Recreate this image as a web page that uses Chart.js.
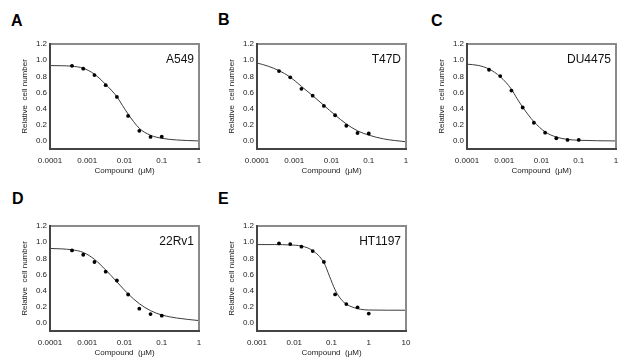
<!DOCTYPE html>
<html>
<head>
<meta charset="utf-8">
<script src="https://cdn.jsdelivr.net/npm/chart.js@4.4.1/dist/chart.umd.min.js"></script>
<style>
  html, body { margin: 0; padding: 0; background: #ffffff; }
  body { width: 623px; height: 362px; position: relative; overflow: hidden; font-family: "Liberation Sans", Arial, sans-serif; }
  .cv { position: absolute; }
  .letter { position: absolute; font-weight: bold; font-size: 16px; line-height: 16px; color: #000; }
</style>
</head>
<body>
<div class="letter" style="left:11px;top:13px;">A</div>
<div class="letter" style="left:218px;top:12px;">B</div>
<div class="letter" style="left:431px;top:13px;">C</div>
<div class="letter" style="left:12px;top:191px;">D</div>
<div class="letter" style="left:218px;top:191px;">E</div>
<canvas id="cA" class="cv" width="205" height="180" style="left:0px;top:0px;width:205px;height:180px;"></canvas>
<canvas id="cB" class="cv" width="205" height="180" style="left:207px;top:0px;width:205px;height:180px;"></canvas>
<canvas id="cC" class="cv" width="205" height="180" style="left:417px;top:0px;width:205px;height:180px;"></canvas>
<canvas id="cD" class="cv" width="205" height="180" style="left:0px;top:182px;width:205px;height:180px;"></canvas>
<canvas id="cE" class="cv" width="205" height="180" style="left:207px;top:182px;width:205px;height:180px;"></canvas>
<script>
// ---------- tick values / labels ----------
const xTicksNano = [0.0001, 0.001, 0.01, 0.1, 1];
const xTickLabelsNano = ['0.0001', '0.001', '0.01', '0.1', '1'];
const xTicksE = [0.001, 0.01, 0.1, 1, 10];
const xTickLabelsE = ['0.001', '0.01', '0.1', '1', '10'];
const yTicks = [0.0, 0.2, 0.4, 0.6, 0.8, 1.0, 1.2];

// ---------- cell lines ----------
const cellLines = ['A549', 'T47D', 'DU4475', '22Rv1', 'HT1197'];

// ---------- measured points ----------
const doseNano = [0.00039, 0.00078, 0.00156, 0.003125, 0.00625, 0.0125, 0.025, 0.05, 0.1];
const doseE = [0.0039, 0.0078, 0.0156, 0.03125, 0.0625, 0.125, 0.25, 0.5, 1];

const respA = [0.93, 0.895, 0.815, 0.69, 0.545, 0.31, 0.125, 0.05, 0.052];
const respB = [0.865, 0.788, 0.645, 0.56, 0.433, 0.318, 0.188, 0.098, 0.092];
const respC = [0.881, 0.803, 0.623, 0.414, 0.225, 0.102, 0.033, 0.012, 0.012];
const respD = [0.898, 0.844, 0.754, 0.635, 0.525, 0.352, 0.176, 0.11, 0.09];
const respE = [0.984, 0.976, 0.944, 0.89, 0.755, 0.353, 0.233, 0.193, 0.116];

// ---------- fitted curves ----------
const curveAx = [0.0001, 0.0002, 0.00039, 0.00078, 0.00156, 0.003125, 0.0044, 0.00625, 0.0088, 0.0125, 0.025, 0.05, 0.1, 0.25, 1];
const curveAy = [0.933, 0.931, 0.925, 0.9, 0.826, 0.70, 0.63, 0.547, 0.44, 0.333, 0.156, 0.07, 0.033, 0.012, 0.0];

const curveBx = [0.0001, 0.0002, 0.00039, 0.00078, 0.00156, 0.003125, 0.00625, 0.0125, 0.025, 0.05, 0.1, 0.25, 0.5, 1];
const curveBy = [0.965, 0.925, 0.87, 0.79, 0.675, 0.56, 0.44, 0.32, 0.21, 0.125, 0.072, 0.025, 0.005, -0.01];

const curveCx = [0.0001, 0.0002, 0.00039, 0.00078, 0.00156, 0.0022, 0.003125, 0.0044, 0.00625, 0.0125, 0.025, 0.05, 0.1, 1];
const curveCy = [0.95, 0.935, 0.89, 0.795, 0.64, 0.525, 0.418, 0.324, 0.238, 0.112, 0.048, 0.019, 0.008, 0.0];

const curveDx = [0.0001, 0.0002, 0.00039, 0.00078, 0.00156, 0.003125, 0.00625, 0.0125, 0.025, 0.05, 0.1, 0.25, 1];
const curveDy = [0.922, 0.917, 0.905, 0.873, 0.787, 0.656, 0.508, 0.36, 0.238, 0.152, 0.098, 0.061, 0.029];

const curveEx = [0.001, 0.003, 0.0078, 0.0156, 0.03125, 0.0625, 0.088, 0.125, 0.177, 0.25, 0.5, 1, 10];
const curveEy = [0.97, 0.97, 0.965, 0.952, 0.895, 0.747, 0.58, 0.41, 0.297, 0.233, 0.177, 0.16, 0.157];

// ---------- helpers ----------
const FONT = '"Liberation Sans", Arial, sans-serif';
const DARK = '#444444';
const LIGHT = '#8a8a8a';

function pairs(xs, ys) { return xs.map((x, i) => ({ x: x, y: ys[i] })); }

// plot frame (2px, pixel aligned) + cell-line label
const framePlugin = {
  id: 'frame',
  afterDraw(chart, args, opts) {
    const ctx = chart.ctx, a = chart.chartArea;
    const L = Math.round(a.left), R = Math.round(a.right), T = Math.round(a.top), B = Math.round(a.bottom);
    ctx.save();
    ctx.fillStyle = LIGHT;
    ctx.fillRect(L - 1, T - 1, R - L + 2, 2);     // top
    ctx.fillRect(R - 1, T - 1, 2, B - T + 2);     // right
    ctx.fillStyle = DARK;
    ctx.fillRect(L - 1, T - 1, 2, B - T + 2);     // left
    ctx.fillRect(L - 1, B - 1, R - L + 2, 2);     // bottom
    ctx.fillStyle = '#111';
    ctx.font = '12px ' + FONT;
    ctx.textAlign = 'right';
    ctx.textBaseline = 'alphabetic';
    ctx.fillText(opts.label, a.right - 5, a.top + 19);
    ctx.restore();
  }
};

function makeChart(id, label, dose, resp, cx, cy, xMin, xMax, xt, xtl) {
  return new Chart(document.getElementById(id), {
    type: 'scatter',
    data: {
      datasets: [
        { data: pairs(cx, cy), showLine: true, borderColor: '#3c3c3c', borderWidth: 1, pointRadius: 0,
          cubicInterpolationMode: 'monotone', fill: false, order: 2 },
        { data: pairs(dose, resp), showLine: false, pointRadius: 1.9, pointStyle: 'circle',
          backgroundColor: '#000', borderColor: '#000', borderWidth: 0, order: 1 }
      ]
    },
    options: {
      responsive: false,
      animation: false,
      devicePixelRatio: 1,
      layout: { padding: { left: 0, top: 44, right: 6, bottom: 0 } },
      plugins: { legend: { display: false }, tooltip: { enabled: false }, frame: { label: label } },
      scales: {
        x: {
          type: 'logarithmic', position: 'bottom', min: xMin, max: xMax,
          grid: { display: false, drawTicks: false },
          border: { display: false },
          afterBuildTicks: (s) => { s.ticks = xt.map(v => ({ value: v })); },
          afterFit: (s) => { s.height = 31; s.paddingLeft = 0; s.paddingRight = 0; },
          ticks: {
            autoSkip: false, maxRotation: 0, padding: 7, color: '#222', font: { family: FONT, size: 8 },
            callback: (v) => { const i = xt.findIndex(t => Math.abs(t - v) / t < 1e-6); return i >= 0 ? xtl[i] : ''; }
          },
          title: { display: true, text: 'Compound  (\u00b5M)', color: '#222', font: { family: FONT, size: 8 }, padding: { top: 0, bottom: 4 } }
        },
        y: {
          position: 'left', min: -0.1, max: 1.2,
          grid: { display: false, drawTicks: false },
          border: { display: false },
          afterBuildTicks: (s) => { s.ticks = yTicks.map(v => ({ value: v })); },
          afterFit: (s) => { s.width = 50; s.paddingTop = 0; s.paddingBottom = 0; },
          ticks: { padding: 3, color: '#222', font: { family: FONT, size: 8 }, callback: (v) => Number(v).toFixed(1) },
          title: { display: true, text: 'Relative  cell number', color: '#222', font: { family: FONT, size: 8 }, padding: { top: 20, bottom: 0 } }
        }
      }
    },
    plugins: [framePlugin]
  });
}

makeChart('cA', cellLines[0], doseNano, respA, curveAx, curveAy, 0.0001, 1, xTicksNano, xTickLabelsNano);
makeChart('cB', cellLines[1], doseNano, respB, curveBx, curveBy, 0.0001, 1, xTicksNano, xTickLabelsNano);
makeChart('cC', cellLines[2], doseNano, respC, curveCx, curveCy, 0.0001, 1, xTicksNano, xTickLabelsNano);
makeChart('cD', cellLines[3], doseNano, respD, curveDx, curveDy, 0.0001, 1, xTicksNano, xTickLabelsNano);
makeChart('cE', cellLines[4], doseE, respE, curveEx, curveEy, 0.001, 10, xTicksE, xTickLabelsE);
</script>
</body>
</html>
